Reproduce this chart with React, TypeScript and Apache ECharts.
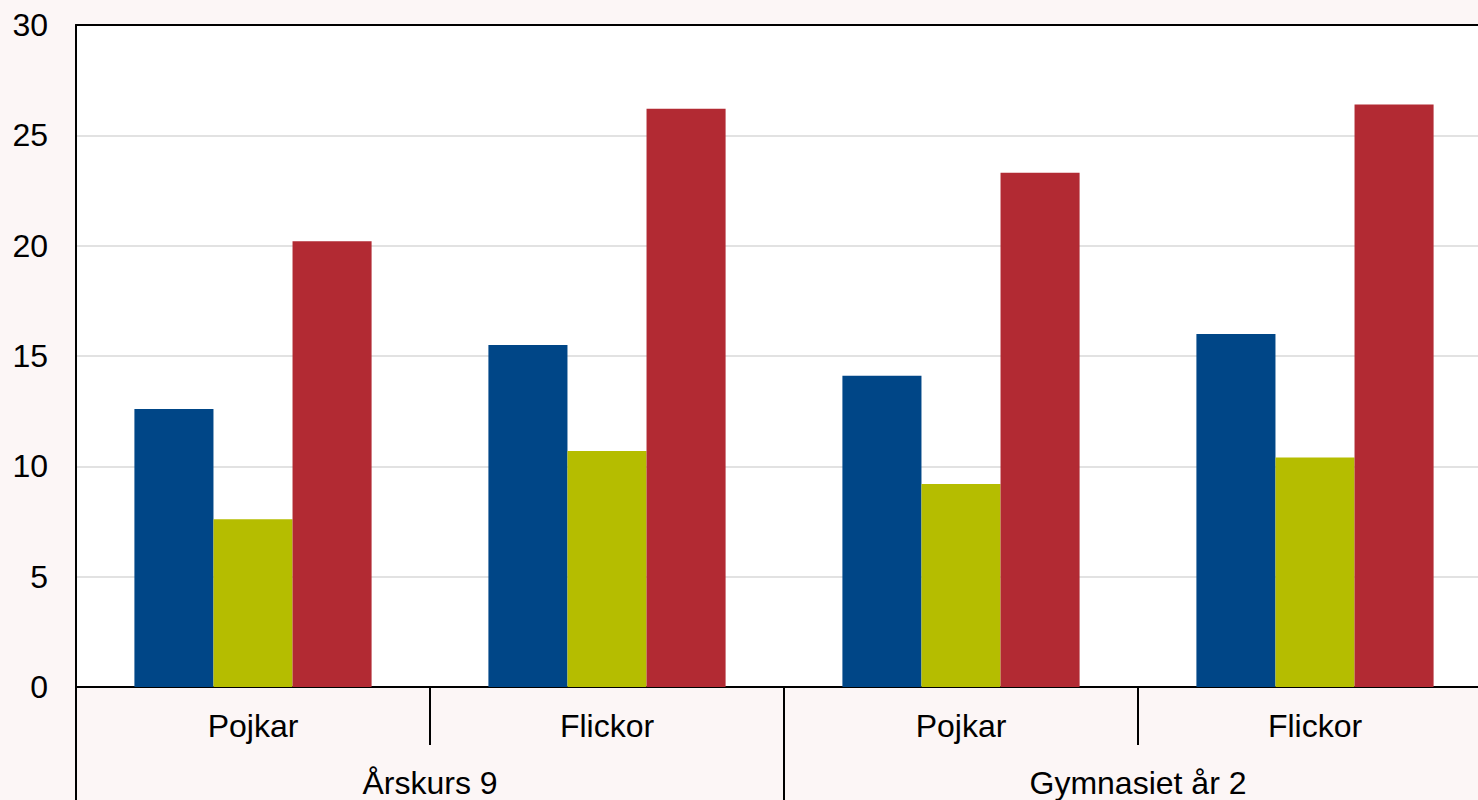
import React, { useEffect, useRef } from "react";
import * as echarts from "echarts";

const subCategories = ["Pojkar", "Flickor", "Pojkar", "Flickor"];
const groups = ["Årskurs 9", "Gymnasiet år 2"];
const seriesBlue = [12.6, 15.5, 14.1, 16.0];
const seriesGreen = [7.6, 10.7, 9.2, 10.4];
const seriesRed = [20.2, 26.2, 23.3, 26.4];
const yTicks = { min: 0, max: 30, interval: 5 };

export default function App() {
  const ref = useRef<HTMLDivElement>(null);
  useEffect(() => {
    document.body.style.margin = "0";
    const chart = echarts.init(ref.current!, null, { renderer: "svg" });
    const font = "Arial, 'Liberation Sans', sans-serif";
    const mkBar = (name: string, data: number[], color: string) => ({
      name,
      type: "bar",
      data,
      barGap: "0%",
      barCategoryGap: "33%",
      itemStyle: { color },
      xAxisIndex: 0,
      yAxisIndex: 0,
    });
    chart.setOption({
      animation: false,
      backgroundColor: "#fcf6f6",
      grid: {
        left: 76,
        right: 0,
        top: 25,
        bottom: 113,
        show: true,
        backgroundColor: "#ffffff",
        borderWidth: 0,
      },
      xAxis: [
        {
          type: "category",
          data: subCategories,
          position: "bottom",
          axisLine: { show: true, lineStyle: { color: "#000", width: 2 } },
          axisTick: { show: true, length: 58, interval: 0, lineStyle: { color: "#000", width: 2 } },
          axisLabel: { interval: 0, margin: 23, fontSize: 32, color: "#000", fontFamily: font },
          splitLine: { show: false },
        },
        {
          type: "category",
          data: groups,
          position: "bottom",
          offset: 0,
          axisLine: { show: false },
          axisTick: { show: true, length: 113, interval: 0, lineStyle: { color: "#000", width: 2 } },
          axisLabel: { interval: 0, margin: 80, fontSize: 32, color: "#000", fontFamily: font },
          splitLine: { show: false },
        },
        {
          type: "category",
          data: subCategories,
          position: "top",
          axisLine: { show: true, lineStyle: { color: "#000", width: 2 } },
          axisTick: { show: false },
          axisLabel: { show: false },
        },
      ],
      yAxis: {
        type: "value",
        min: yTicks.min,
        max: yTicks.max,
        interval: yTicks.interval,
        axisLine: { show: true, lineStyle: { color: "#000", width: 2 } },
        axisTick: { show: false },
        axisLabel: { margin: 28, fontSize: 32, color: "#000", fontFamily: font },
        splitLine: { show: true, lineStyle: { color: "#d9d9d9", width: 1.5 } },
      },
      series: [
        mkBar("Blå", seriesBlue, "#004687"),
        mkBar("Grön", seriesGreen, "#b5bd00"),
        mkBar("Röd", seriesRed, "#b22a33"),
      ],
    });
    return () => chart.dispose();
  }, []);
  return (
    <div style={{ position: "fixed", left: 0, top: 0, width: 1478, height: 800, overflow: "hidden" }}>
      <div ref={ref} style={{ width: 1492, height: 800 }} />
    </div>
  );
}
